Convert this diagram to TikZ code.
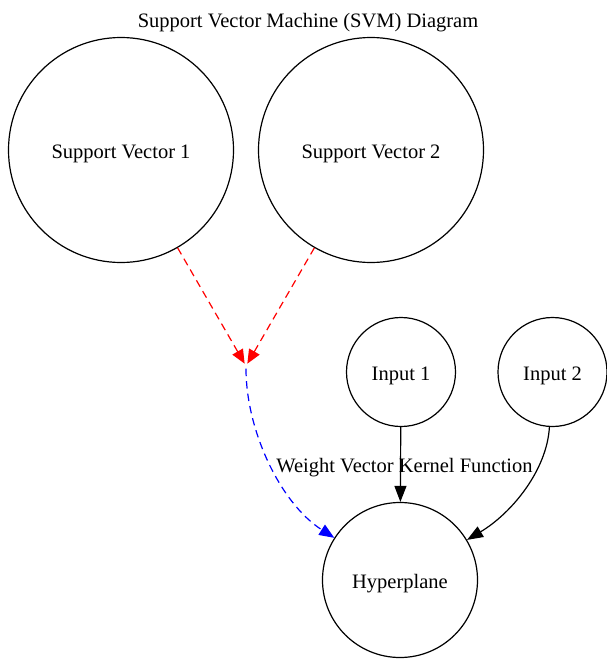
\documentclass[tikz,border=0pt]{standalone}
\usepackage{fontspec}
\setmainfont{Liberation Serif}
\usetikzlibrary{arrows.meta}
\newcommand{\lowtxt}[1]{\raisebox{-3.5pt}[\height][\depth]{#1}}
\begin{document}
\begin{tikzpicture}[x=1pt,y=-1pt,
  every node/.style={font=\fontsize{20.5}{24}\selectfont},
  bignode/.style={circle,draw=black,line width=1.2pt,inner sep=0pt,minimum size=225pt},
  innode/.style={circle,draw=black,line width=1.2pt,inner sep=0pt,minimum size=109pt},
  hypnode/.style={circle,draw=black,line width=1.2pt,inner sep=0pt,minimum size=155pt},
  junction/.style={circle,draw=none,inner sep=0pt,minimum size=5pt},
  redflow/.style={draw=red,line width=1.2pt,dash pattern=on 7.5pt off 5pt,-{Triangle[length=14pt,width=12pt]},red},
  blueflow/.style={draw=blue,line width=1.2pt,dash pattern=on 7.5pt off 5pt,-{Triangle[length=15pt,width=12pt]},blue},
  blackflow/.style={draw=black,line width=1.2pt,-{Triangle[length=16pt,width=12pt]}},
  plain/.style={inner sep=0pt}
]
\useasboundingbox (0,0) rectangle (607,659);
\node[plain] (title) at (308,23) {Support Vector Machine (SVM) Diagram};
\node[bignode] (sv1) at (121,150) {\lowtxt{Support Vector 1}};
\node[bignode] (sv2) at (371,150) {\lowtxt{Support Vector 2}};
\node[junction] (pt) at (246,366) {};
\node[innode] (in1) at (401,372) {\lowtxt{Input 1}};
\node[innode] (in2) at (552.5,372) {\lowtxt{Input 2}};
\node[hypnode] (hyp) at (400,580) {\lowtxt{Hyperplane}};
\node[plain] (lbl) at (404.5,468) {Weight Vector Kernel Function};
\draw[redflow] (sv1) -- (pt);
\draw[redflow] (sv2) -- (pt);
\draw[blueflow] (pt) .. controls (246,430) and (280,503) .. (hyp);
\draw[blackflow] (in1) -- (hyp);
\draw[blackflow] (in2) .. controls (547,470) and (512,513) .. (hyp);
\end{tikzpicture}
\end{document}
